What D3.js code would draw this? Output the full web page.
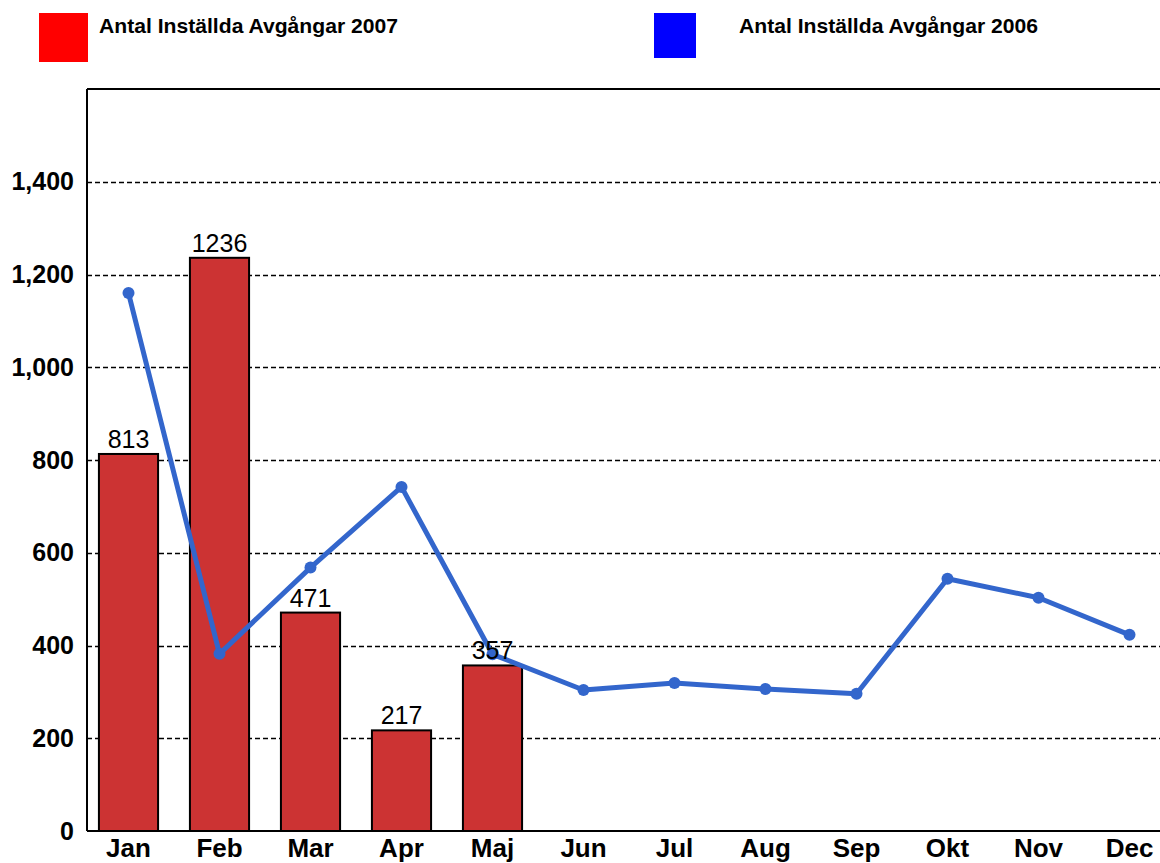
<!DOCTYPE html>
<html>
<head>
<meta charset="utf-8">
<script src="https://cdn.jsdelivr.net/npm/d3@7"></script>
<style>
  body { margin: 0; background: #fff; }
  svg { display: block; font-family: "Liberation Sans", Arial, sans-serif; }
</style>
</head>
<body>
<svg id="chart" width="1160" height="863"></svg>
<script>
const months = ["Jan", "Feb", "Mar", "Apr", "Maj", "Jun", "Jul", "Aug", "Sep", "Okt", "Nov", "Dec"];
const values2007 = [813, 1236, 471, 217, 357];
const values2006 = [1160, 382, 568, 742, 381, 304, 319, 306, 296, 544, 503, 423];
const yTicks = [0, 200, 400, 600, 800, 1000, 1200, 1400];
const legendItems = [
  { label: "Antal Inställda Avgångar 2007", color: "#ff0000" },
  { label: "Antal Inställda Avgångar 2006", color: "#0000ff" },
];

const svg = d3.select("#chart");
const margin = { top: 89, left: 87, bottom: 831 };

const x = d3.scaleBand().domain(months).range([83, 83 + 91 * 12]).paddingInner(0.35).paddingOuter(0.175);
const y = d3.scaleLinear().domain([0, 1600]).range([margin.bottom, margin.top]);

// legend
const legendPos = [{ bx: 39, by: 13, bw: 49, bh: 49, tx: 99 }, { bx: 654, by: 13, bw: 42, bh: 45, tx: 739 }];
const legend = svg.selectAll("g.legend").data(legendItems).join("g").attr("class", "legend");
legend.append("rect")
  .attr("x", (d, i) => legendPos[i].bx).attr("y", (d, i) => legendPos[i].by)
  .attr("width", (d, i) => legendPos[i].bw).attr("height", (d, i) => legendPos[i].bh)
  .attr("fill", (d) => d.color);
legend.append("text")
  .attr("x", (d, i) => legendPos[i].tx).attr("y", 33)
  .attr("font-size", 21).attr("font-weight", "bold").attr("fill", "#000")
  .attr("textLength", 299).attr("lengthAdjust", "spacingAndGlyphs")
  .text((d) => d.label);

// gridlines
svg.append("g")
  .selectAll("line")
  .data(yTicks.filter((d) => d > 0))
  .join("line")
  .attr("x1", margin.left).attr("x2", 1160)
  .attr("y1", (d) => Math.round(y(d)) + 0.5).attr("y2", (d) => Math.round(y(d)) + 0.5)
  .attr("stroke", "#000").attr("stroke-width", 1.5).attr("stroke-dasharray", "5,3");

// frame
svg.append("line").attr("x1", margin.left).attr("x2", margin.left).attr("y1", margin.top).attr("y2", margin.bottom)
  .attr("stroke", "#000").attr("stroke-width", 2);
svg.append("line").attr("x1", margin.left).attr("x2", 1160).attr("y1", margin.top).attr("y2", margin.top)
  .attr("stroke", "#000").attr("stroke-width", 2);

// y axis labels
const yAxis = svg.append("g").attr("transform", `translate(${margin.left},0)`)
  .call(d3.axisLeft(y).tickValues(yTicks).tickFormat(d3.format(",")).tickSize(0).tickPadding(13));
yAxis.select(".domain").remove();
yAxis.selectAll("text").attr("font-size", 25).attr("font-weight", "bold").attr("fill", "#000")
  .attr("font-family", "'Liberation Sans', Arial, sans-serif");

// bars
const bars = values2007.map((v, i) => ({ month: months[i], value: v }));
svg.append("g").selectAll("rect")
  .data(bars)
  .join("rect")
  .attr("x", (d) => x(d.month))
  .attr("y", (d) => y(d.value))
  .attr("width", x.bandwidth())
  .attr("height", (d) => y(0) - y(d.value))
  .attr("fill", "#cc3333")
  .attr("stroke", "#000")
  .attr("stroke-width", 2);

// x axis
const xAxis = svg.append("g").attr("transform", `translate(0,${margin.bottom})`)
  .call(d3.axisBottom(x).tickSize(0).tickPadding(8));
xAxis.select(".domain").attr("d", `M${margin.left},0H1160`).attr("stroke", "#000").attr("stroke-width", 2);
xAxis.selectAll("text").attr("font-size", 26).attr("font-weight", "bold").attr("fill", "#000")
  .attr("font-family", "'Liberation Sans', Arial, sans-serif");

// line 2006
const pts = values2006.map((v, i) => ({ month: months[i], value: v }));
const cx = (d) => x(d.month) + x.bandwidth() / 2;
svg.append("path")
  .datum(pts)
  .attr("fill", "none")
  .attr("stroke", "#3366cc")
  .attr("stroke-width", 5)
  .attr("stroke-linejoin", "round")
  .attr("d", d3.line().x(cx).y((d) => y(d.value)));
svg.append("g").selectAll("circle")
  .data(pts)
  .join("circle")
  .attr("cx", cx)
  .attr("cy", (d) => y(d.value))
  .attr("r", 6)
  .attr("fill", "#3366cc");

// bar value labels
svg.append("g").selectAll("text")
  .data(bars)
  .join("text")
  .attr("x", (d) => x(d.month) + x.bandwidth() / 2)
  .attr("y", (d) => y(d.value) - 6)
  .attr("text-anchor", "middle")
  .attr("font-size", 25)
  .attr("fill", "#000")
  .text((d) => d.value);
</script>
</body>
</html>
